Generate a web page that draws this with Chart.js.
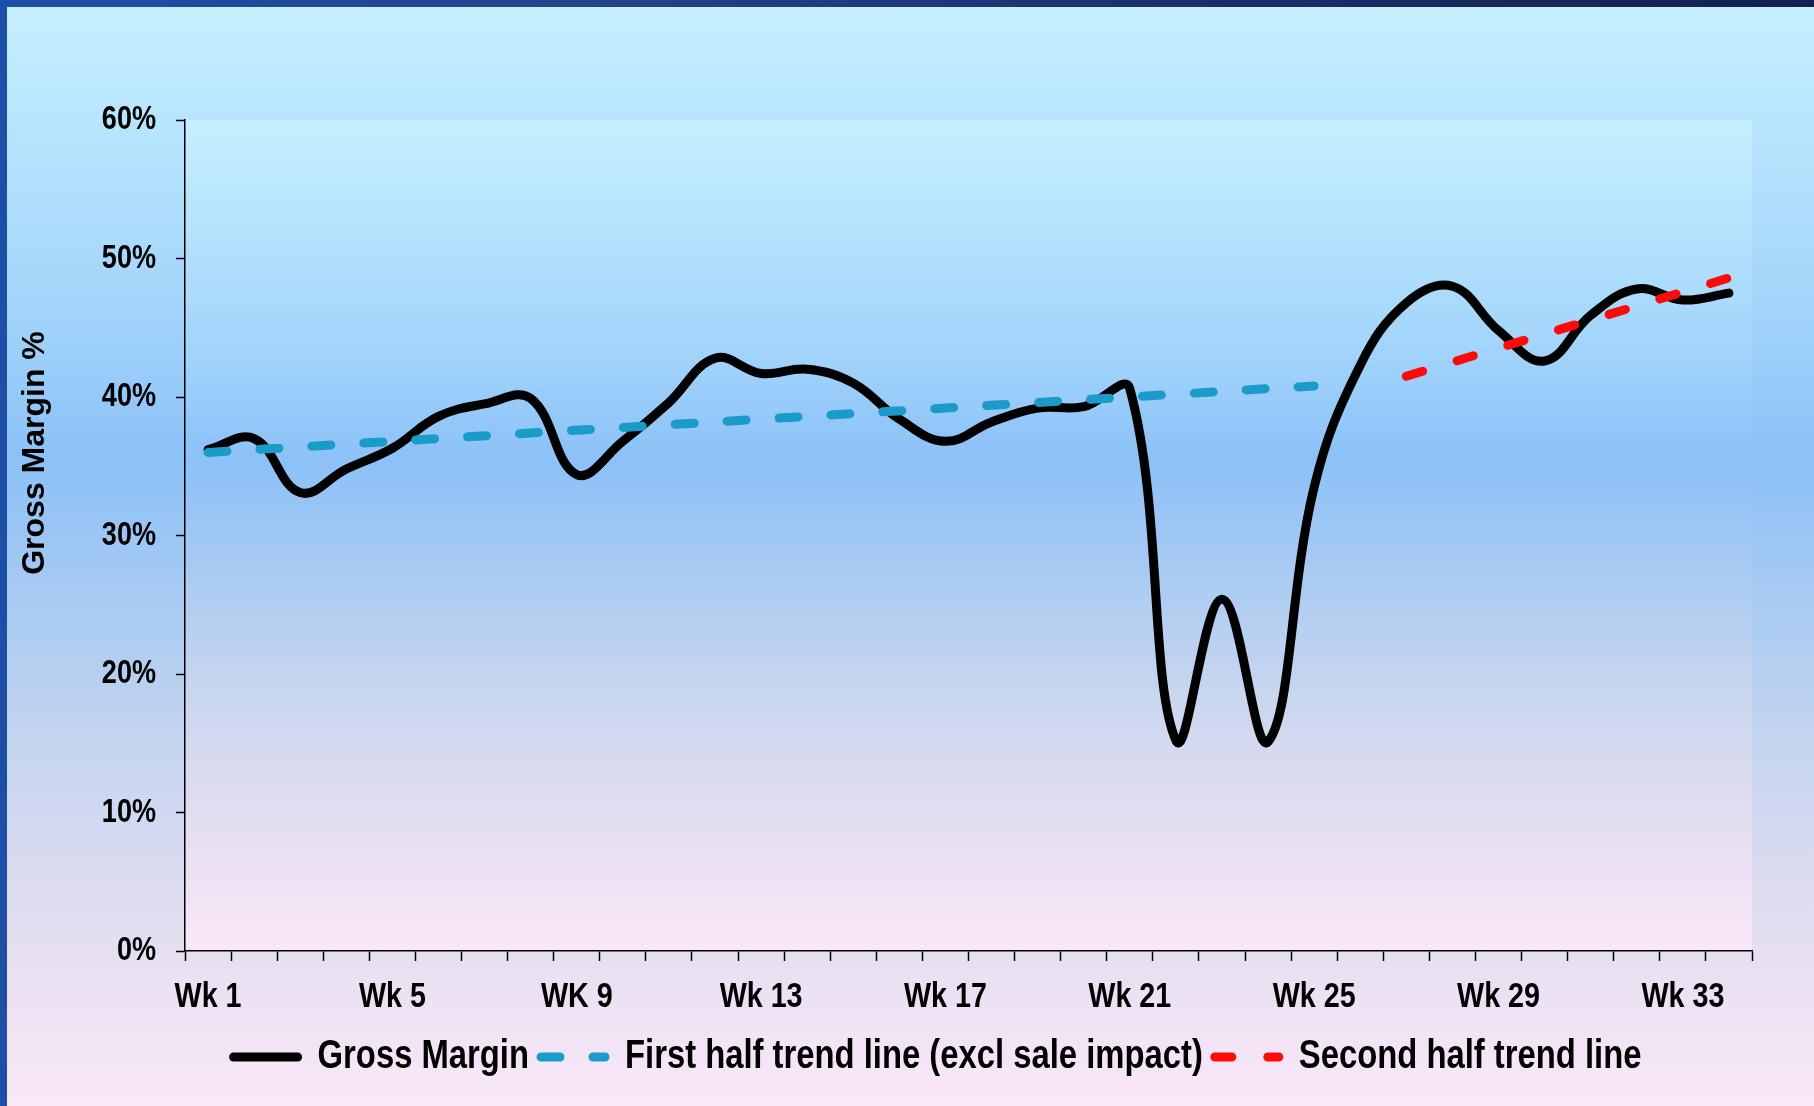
<!DOCTYPE html>
<html>
<head>
<meta charset="utf-8">
<title>Gross Margin %</title>
<script src="https://cdn.jsdelivr.net/npm/chart.js@4/dist/chart.umd.min.js"></script>
<style>
  html, body { margin: 0; padding: 0; width: 1814px; height: 1106px; overflow: hidden; }
  body { background: linear-gradient(90deg, #1d4fa6, #24458e 30%, #1a2d66 70%, #14214f); position: relative; }
  #slide {
    position: absolute; left: 7px; top: 7px; width: 1807px; height: 1099px;
    background: linear-gradient(180deg, #c6efff 0%, #a3d5fb 27%, #8cc1f7 41%, #aacbf2 55%, #c8d6ef 69%, #e2ddf0 83%, #fae8f8 100%);
  }
  canvas { display: block; }
</style>
</head>
<body>
<div id="slide"><canvas id="chart" width="1807" height="1099"></canvas></div>
<script>
// Weekly categories (every 4th one is labelled on the axis)
const weeks = ['Wk 1', 'Wk 2', 'Wk 3', 'Wk 4', 'Wk 5', 'Wk 6', 'Wk 7', 'Wk 8', 'WK 9', 'Wk 10',
               'Wk 11', 'Wk 12', 'Wk 13', 'Wk 14', 'Wk 15', 'Wk 16', 'Wk 17', 'Wk 18', 'Wk 19', 'Wk 20',
               'Wk 21', 'Wk 22', 'Wk 23', 'Wk 24', 'Wk 25', 'Wk 26', 'Wk 27', 'Wk 28', 'Wk 29', 'Wk 30',
               'Wk 31', 'Wk 32', 'Wk 33', 'Wk 34'];

// Gross margin per week, in percent
const grossMargin = [36.2, 37.0, 33.1, 34.8, 36.3, 38.6, 39.5, 39.9, 34.4, 36.8,
                     39.6, 42.8, 41.7, 42.0, 41.0, 38.4, 36.8, 38.2, 39.2, 39.3,
                     40.6, 15.2, 25.4, 15.1, 33.5, 42.3, 46.8, 48.0, 44.8, 42.6,
                     45.9, 47.8, 47.0, 47.5];

// Trend lines: only their end points are given, the line spans the gap
const trendFirst = [36.0, null, null, null, null, null, null, null, null, null,
                    null, null, null, null, null, null, null, null, null, null,
                    null, null, null, null, 40.8, null, null, null, null, null,
                    null, null, null, null];
const trendSecond = [null, null, null, null, null, null, null, null, null, null,
                     null, null, null, null, null, null, null, null, null, null,
                     null, null, null, null, null, null, 41.5, null, null, null,
                     null, null, null, 48.6];

const yTicks = [0, 10, 20, 30, 40, 50, 60];
const seriesNames = ['Gross Margin', 'First half trend line (excl sale impact)', 'Second half trend line'];
const yAxisTitle = 'Gross Margin %';

const NARROW = '"Liberation Sans Narrow", "Arial Narrow", "Liberation Sans", Arial, sans-serif';
const WIDE = '"Liberation Sans", Arial, sans-serif';

// Condensed lettering: any font whose family list names a "Narrow" face is
// drawn horizontally squeezed, and measured the same way so layout agrees.
const SQUEEZE = 0.82;
(function () {
  const proto = CanvasRenderingContext2D.prototype;
  const baseFill = proto.fillText;
  const baseMeasure = proto.measureText;
  const isNarrow = ctx => String(ctx.font).indexOf('Narrow') !== -1;
  proto.fillText = function (text, x, y, maxWidth) {
    if (!isNarrow(this)) {
      return maxWidth === undefined ? baseFill.call(this, text, x, y) : baseFill.call(this, text, x, y, maxWidth);
    }
    this.save();
    this.translate(x, y);
    this.scale(SQUEEZE, 1);
    if (maxWidth === undefined) baseFill.call(this, text, 0, 0);
    else baseFill.call(this, text, 0, 0, maxWidth / SQUEEZE);
    this.restore();
  };
  proto.measureText = function (text) {
    const m = baseMeasure.call(this, text);
    if (!isNarrow(this)) return m;
    return {
      width: m.width * SQUEEZE,
      actualBoundingBoxLeft: m.actualBoundingBoxLeft * SQUEEZE,
      actualBoundingBoxRight: m.actualBoundingBoxRight * SQUEEZE,
      actualBoundingBoxAscent: m.actualBoundingBoxAscent,
      actualBoundingBoxDescent: m.actualBoundingBoxDescent,
      fontBoundingBoxAscent: m.fontBoundingBoxAscent,
      fontBoundingBoxDescent: m.fontBoundingBoxDescent
    };
  };
})();

const bgStops = [[0, '#c6efff'], [0.27, '#a3d5fb'], [0.41, '#8cc1f7'], [0.55, '#aacbf2'],
                 [0.69, '#c8d6ef'], [0.83, '#e2ddf0'], [1, '#fae8f8']];

// Gradient fill behind the plotting area
const plotFill = {
  id: 'plotFill',
  beforeDraw(chart) {
    const { ctx, chartArea: { left, top, right, bottom } } = chart;
    const g = ctx.createLinearGradient(0, top, 0, bottom);
    bgStops.forEach(([p, c]) => g.addColorStop(p, c));
    ctx.save();
    ctx.fillStyle = g;
    ctx.fillRect(left, top, right - left, bottom - top);
    ctx.restore();
  }
};

// Rotated value-axis title, placed a little above the axis middle
const yTitle = {
  id: 'yTitle',
  afterDraw(chart) {
    const ctx = chart.ctx;
    ctx.save();
    ctx.translate(28, 446);
    ctx.rotate(-Math.PI / 2);
    ctx.font = 'bold 32px ' + WIDE;
    ctx.fillStyle = '#000';
    ctx.textAlign = 'center';
    ctx.textBaseline = 'middle';
    ctx.fillText(yAxisTitle, 0, 0);
    ctx.restore();
  }
};

const datasets = [
  {
    label: seriesNames[1], data: trendFirst, spanGaps: true, tension: 0,
    borderColor: '#1b9bc9', borderWidth: 9, borderDash: [19, 33], borderCapStyle: 'round',
    pointRadius: 0, pointHoverRadius: 0
  },
  {
    label: seriesNames[2], data: trendSecond, spanGaps: true, tension: 0,
    borderColor: '#ff0a0a', borderWidth: 9, borderDash: [17, 36], borderCapStyle: 'round',
    pointRadius: 0, pointHoverRadius: 0
  },
  {
    label: seriesNames[0], data: grossMargin, tension: 0.4,
    borderColor: '#000000', borderWidth: 9, borderCapStyle: 'round', borderJoinStyle: 'round',
    pointRadius: 0, pointHoverRadius: 0
  }
];
const legendOrder = [2, 0, 1];

new Chart(document.getElementById('chart'), {
  type: 'line',
  data: { labels: weeks, datasets },
  options: {
    responsive: false,
    animation: false,
    events: [],
    layout: { padding: { top: 113, right: 0, bottom: 19, left: 54 } },
    plugins: {
      tooltip: { enabled: false },
      legend: {
        position: 'bottom',
        labels: {
          usePointStyle: true,
          pointStyleWidth: 64,
          boxHeight: 9,
          padding: 12,
          color: '#000',
          font: { family: NARROW, size: 40, weight: 'bold' },
          generateLabels(chart) {
            return legendOrder.map(i => {
              const ds = chart.data.datasets[i];
              return {
                text: ds.label, datasetIndex: i, hidden: false,
                strokeStyle: ds.borderColor, fillStyle: ds.borderColor,
                lineWidth: ds.borderWidth, lineDash: ds.borderDash || [],
                lineCap: ds.borderCapStyle || 'butt', pointStyle: 'line'
              };
            });
          }
        }
      }
    },
    scales: {
      x: {
        type: 'category',
        offset: true,
        grid: { offset: true, drawOnChartArea: false, tickLength: 10, color: '#000', tickWidth: 1.5 },
        border: { color: '#000', width: 1.5 },
        ticks: {
          autoSkip: false, maxRotation: 0, minRotation: 0, padding: 15, color: '#000',
          font: { family: NARROW, size: 35, weight: 'bold' },
          callback(value, index) { return index % 4 === 0 ? weeks[index] : ''; }
        },
        afterFit(scale) { scale.height = 74; }
      },
      y: {
        min: 0, max: 60,
        afterBuildTicks(scale) { scale.ticks = yTicks.map(v => ({ value: v })); },
        grid: { drawOnChartArea: false, tickLength: 9, color: '#000', tickWidth: 1.5 },
        border: { color: '#000', width: 1.5 },
        ticks: {
          padding: 20, color: '#000',
          font: { family: NARROW, size: 33, weight: 'bold' },
          callback(value) { return value + '%'; }
        },
        afterFit(scale) { scale.width = 124; }
      },
      side: {
        position: 'right', type: 'linear', display: true,
        grid: { display: false }, border: { display: false }, ticks: { display: false },
        afterFit(scale) { scale.width = 62; }
      }
    }
  },
  plugins: [plotFill, yTitle]
});
</script>
</body>
</html>
